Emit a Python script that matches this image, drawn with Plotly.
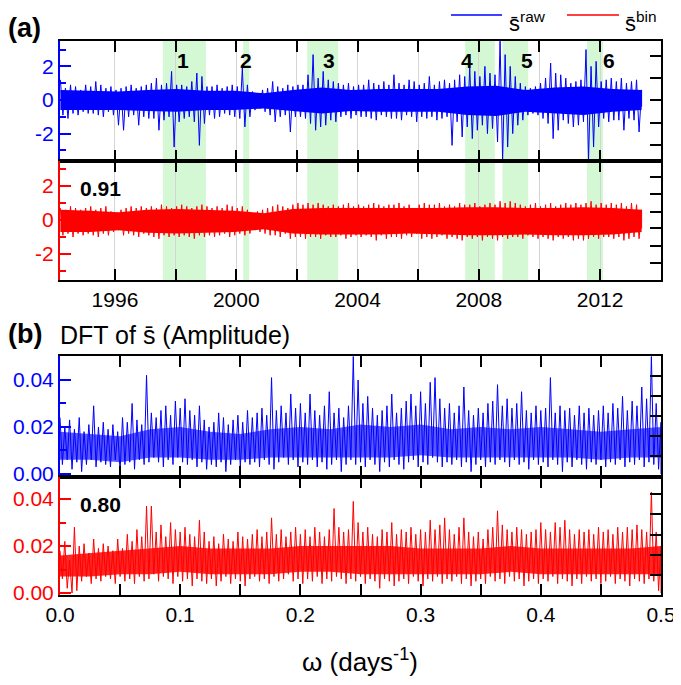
import numpy as np
import plotly.graph_objects as go

# ---------------- data ----------------
# panel (a): envelope of the daily series, one hi/lo pair every 2 months
year_start, year_end = 1994.2, 2013.37
raw_hi = [1.2, 0.7, 0.9, 0.8, 0.6, 0.9,
          0.8, 1.1, 0.9, 0.7, 0.8, 0.6,
          0.7, 0.8, 0.9, 0.7, 0.8, 0.9,
          1.0, 1.3, 0.9, 1.0, 1.7, 0.9,
          0.9, 0.8, 1.1, 1.6, 1.4, 0.8,
          0.8, 0.9, 0.7, 0.8, 0.9, 0.8,
          1.9, 0.9, 0.5, 0.4, 0.6, 0.7,
          1.1, 0.8, 0.7, 0.9, 0.8, 0.9,
          0.9, 1.5, 2.7, 1.3, 1.7, 1.2,
          1.1, 1.0, 0.9, 1.0, 0.8, 0.9,
          0.9, 1.2, 1.0, 0.9, 1.1, 0.9,
          1.5, 1.0, 0.9, 1.2, 1.1, 0.9,
          1.0, 1.4, 0.9, 1.1, 1.2, 1.0,
          1.2, 1.5, 1.4, 1.9, 1.7, 1.4,
          2.0, 1.6, 1.5, 3.5, 2.7, 2.0,
          1.4, 1.0, 0.8, 0.7, 0.8, 1.0,
          1.3, 2.2, 1.6, 1.5, 1.3, 1.0,
          1.1, 1.2, 3.0, 2.0, 2.3, 1.1,
          1.2, 1.3, 1.1, 1.3, 1.0, 1.1,
          1.2, 0.6]
raw_lo = [-0.9, -1.1, -0.8, -0.9, -0.7, -0.8,
          -0.8, -0.9, -1.0, -0.7, -0.9, -1.5,
          -1.8, -1.0, -0.9, -1.5, -1.0, -1.1,
          -1.1, -1.8, -1.2, -1.0, -2.8, -1.3,
          -1.1, -1.0, -1.3, -2.7, -1.4, -0.9,
          -1.1, -1.0, -0.8, -0.9, -1.0, -1.1,
          -1.6, -1.0, -0.6, -0.5, -0.7, -0.9,
          -1.3, -1.0, -0.9, -1.9, -1.0, -1.0,
          -1.1, -1.4, -1.8, -1.6, -1.5, -1.2,
          -1.3, -1.0, -0.9, -1.1, -0.9, -1.0,
          -1.0, -1.1, -1.2, -0.9, -1.0, -1.1,
          -1.1, -1.2, -0.9, -1.0, -1.3, -1.0,
          -1.1, -1.0, -1.2, -1.1, -1.0, -2.7,
          -1.3, -2.2, -1.6, -2.3, -1.8, -1.5,
          -2.0, -1.7, -2.5, -3.6, -2.8, -2.0,
          -1.5, -1.2, -0.9, -0.8, -0.9, -1.1,
          -1.4, -2.3, -1.8, -1.2, -1.4, -1.6,
          -1.5, -1.3, -3.6, -2.8, -1.6, -1.1,
          -1.3, -1.2, -1.2, -1.8, -1.1, -1.2,
          -1.9, -0.4]
bin_hi = [0.7, 0.6, 0.8, 0.7, 0.6, 0.7,
          0.8, 0.6, 0.7, 0.8, 0.5, 0.4,
          0.6, 0.7, 0.8, 0.7, 0.8, 0.7,
          0.8, 0.7, 0.9, 0.8, 0.7, 0.8,
          0.9, 0.8, 0.7, 0.8, 0.9, 0.8,
          0.7, 0.8, 0.7, 0.9, 0.8, 0.7,
          0.8, 0.6, 0.4, 0.5, 0.6, 0.7,
          0.8, 0.9, 0.8, 0.7, 0.9, 1.0,
          0.9, 1.0, 0.9, 1.0, 0.9, 0.8,
          0.9, 0.8, 0.9, 1.0, 0.8, 0.9,
          0.8, 0.9, 1.0, 0.9, 0.8, 0.9,
          0.9, 1.0, 0.8, 0.9, 0.7, 0.9,
          1.0, 0.9, 0.9, 1.0, 0.8, 0.9,
          0.8, 1.0, 0.9, 0.9, 1.0, 0.8,
          0.9, 1.0, 0.9, 1.1, 1.0, 1.1,
          1.0, 0.9, 0.8, 0.9, 1.0, 0.8,
          0.9, 1.0, 0.8, 0.9, 1.0, 0.9,
          1.0, 0.9, 1.0, 1.1, 0.9, 1.0,
          0.9, 1.0, 0.9, 1.0, 0.8, 1.0,
          0.9, 0.6]
bin_lo = [-0.9, -0.8, -1.0, -0.8, -0.9, -0.8,
          -0.9, -1.0, -0.8, -0.9, -0.7, -0.6,
          -0.9, -0.8, -0.9, -1.0, -0.8, -0.9,
          -1.0, -1.1, -0.9, -1.0, -0.9, -1.0,
          -0.9, -1.0, -1.1, -0.9, -1.0, -0.9,
          -1.0, -0.9, -0.8, -1.0, -0.9, -0.8,
          -0.9, -0.8, -0.6, -0.7, -0.8, -0.9,
          -0.9, -1.0, -0.8, -1.1, -1.0, -1.0,
          -1.1, -1.0, -1.0, -1.1, -0.9, -1.0,
          -1.0, -0.9, -1.1, -1.0, -0.9, -1.0,
          -0.9, -1.0, -1.2, -0.9, -1.1, -1.0,
          -1.0, -1.1, -0.9, -1.0, -0.8, -1.1,
          -1.0, -1.1, -1.0, -0.9, -1.1, -1.0,
          -1.1, -1.2, -1.0, -1.1, -1.0, -1.2,
          -1.0, -1.1, -1.2, -1.0, -1.1, -1.0,
          -1.0, -1.1, -0.9, -1.0, -1.1, -1.0,
          -1.1, -1.2, -1.0, -1.1, -1.0, -1.2,
          -1.1, -1.2, -1.1, -1.0, -1.1, -1.0,
          -1.0, -1.1, -1.0, -1.2, -1.1, -1.0,
          -1.1, -0.5]
# solid (dense) core of each band, one value per ~year
raw_core_hi = [0.6, 0.55, 0.5, 0.6, 0.65, 0.55, 0.55, 0.4, 0.6, 0.75, 0.6,
               0.65, 0.65, 0.65, 0.8, 0.85, 0.6, 0.75, 0.8, 0.65, 0.6]
raw_core_lo = [-0.6, -0.6, -0.6, -0.65, -0.7, -0.6, -0.6, -0.5, -0.65, -0.8, -0.65,
               -0.7, -0.7, -0.7, -0.9, -0.95, -0.7, -0.8, -0.9, -0.7, -0.6]
bin_core_hi = [0.6, 0.55, 0.45, 0.6, 0.65, 0.6, 0.55, 0.4, 0.65, 0.7, 0.7,
               0.7, 0.7, 0.7, 0.75, 0.75, 0.7, 0.7, 0.75, 0.7, 0.6]
bin_core_lo = [-0.7, -0.7, -0.6, -0.75, -0.8, -0.75, -0.7, -0.55, -0.8, -0.85, -0.85,
               -0.85, -0.8, -0.85, -0.9, -0.9, -0.85, -0.9, -0.9, -0.85, -0.7]

# panel (b): DFT amplitude envelope, one hi/lo pair every 0.004 days^-1
omega_start, omega_end = 0.0, 0.5
dft_raw_hi = [0.024, 0.020, 0.023, 0.019, 0.024, 0.018, 0.021, 0.029, 0.020, 0.022,
              0.019, 0.021, 0.018, 0.024, 0.022, 0.030, 0.023, 0.021, 0.042, 0.026,
              0.024, 0.027, 0.029, 0.025, 0.031, 0.028, 0.032, 0.027, 0.025, 0.029,
              0.023, 0.020, 0.022, 0.026, 0.024, 0.021, 0.023, 0.025, 0.022, 0.027,
              0.024, 0.026, 0.028, 0.025, 0.041, 0.027, 0.029, 0.026, 0.034, 0.028,
              0.030, 0.026, 0.034, 0.027, 0.025, 0.029, 0.035, 0.026, 0.028, 0.024,
              0.029, 0.050, 0.040, 0.030, 0.033, 0.028, 0.025, 0.027, 0.029, 0.034,
              0.026, 0.028, 0.031, 0.034, 0.029, 0.035, 0.030, 0.039, 0.041, 0.032,
              0.028, 0.030, 0.026, 0.029, 0.037, 0.027, 0.025, 0.028, 0.026, 0.030,
              0.031, 0.038, 0.029, 0.032, 0.028, 0.030, 0.035, 0.027, 0.026, 0.029,
              0.027, 0.028, 0.041, 0.026, 0.029, 0.027, 0.028, 0.025, 0.029, 0.026,
              0.028, 0.025, 0.027, 0.029, 0.026, 0.030, 0.028, 0.033, 0.027, 0.031,
              0.029, 0.037, 0.032, 0.050, 0.030, 0.022]
dft_raw_lo = [0.004, 0.006, 0.002, 0.005, 0.001, 0.004, 0.006, 0.003, 0.005, 0.004,
              0.003, 0.006, 0.001, 0.004, 0.005, 0.002, 0.006, 0.004, 0.005, 0.007,
              0.005, 0.003, 0.006, 0.004, 0.007, 0.005, 0.004, 0.006, 0.003, 0.005,
              0.002, 0.004, 0.003, 0.005, 0.001, 0.004, 0.006, 0.003, 0.005, 0.004,
              0.005, 0.003, 0.006, 0.004, 0.002, 0.005, 0.007, 0.004, 0.006, 0.003,
              0.005, 0.004, 0.006, 0.003, 0.005, 0.002, 0.004, 0.006, 0.001, 0.004,
              0.006, 0.004, 0.005, 0.003, 0.006, 0.004, 0.001, 0.005, 0.003, 0.006,
              0.004, 0.002, 0.005, 0.006, 0.003, 0.005, 0.004, 0.007, 0.005, 0.003,
              0.005, 0.004, 0.006, 0.003, 0.005, 0.001, 0.004, 0.006, 0.003, 0.005,
              0.004, 0.006, 0.005, 0.003, 0.006, 0.004, 0.005, 0.002, 0.006, 0.004,
              0.005, 0.003, 0.006, 0.004, 0.001, 0.005, 0.003, 0.006, 0.004, 0.002,
              0.005, 0.004, 0.006, 0.003, 0.005, 0.004, 0.006, 0.003, 0.005, 0.004,
              0.006, 0.003, 0.005, 0.004, 0.002, 0.000]
dft_bin_hi = [0.018, 0.022, 0.014, 0.028, 0.020, 0.021, 0.017, 0.023, 0.019, 0.021,
              0.020, 0.018, 0.023, 0.019, 0.025, 0.022, 0.027, 0.024, 0.037, 0.037,
              0.026, 0.029, 0.024, 0.030, 0.027, 0.026, 0.028, 0.025, 0.024, 0.031,
              0.026, 0.022, 0.024, 0.021, 0.025, 0.023, 0.022, 0.026, 0.024, 0.023,
              0.025, 0.027, 0.024, 0.026, 0.032, 0.025, 0.027, 0.024, 0.026, 0.028,
              0.025, 0.027, 0.024, 0.028, 0.026, 0.024, 0.027, 0.036, 0.028, 0.026,
              0.027, 0.039, 0.030, 0.026, 0.028, 0.025, 0.024, 0.027, 0.026, 0.030,
              0.025, 0.027, 0.026, 0.028, 0.025, 0.027, 0.026, 0.031, 0.027, 0.029,
              0.032, 0.027, 0.025, 0.028, 0.032, 0.026, 0.024, 0.026, 0.023, 0.027,
              0.028, 0.035, 0.029, 0.027, 0.026, 0.028, 0.027, 0.025, 0.026, 0.027,
              0.030, 0.027, 0.026, 0.030, 0.028, 0.031, 0.027, 0.025, 0.027, 0.026,
              0.027, 0.025, 0.028, 0.026, 0.027, 0.025, 0.028, 0.026, 0.028, 0.027,
              0.029, 0.027, 0.026, 0.043, 0.026, 0.020]
dft_bin_lo = [0.006, 0.002, 0.000, 0.001, 0.005, 0.007, 0.004, 0.006, 0.005, 0.007,
              0.006, 0.004, 0.007, 0.005, 0.006, 0.004, 0.007, 0.005, 0.006, 0.008,
              0.005, 0.007, 0.006, 0.004, 0.007, 0.005, 0.006, 0.003, 0.006, 0.005,
              0.004, 0.006, 0.003, 0.005, 0.007, 0.004, 0.006, 0.005, 0.003, 0.006,
              0.007, 0.005, 0.006, 0.004, 0.007, 0.005, 0.006, 0.008, 0.005, 0.006,
              0.004, 0.006, 0.005, 0.007, 0.004, 0.006, 0.005, 0.007, 0.006, 0.004,
              0.006, 0.005, 0.007, 0.004, 0.006, 0.005, 0.002, 0.006, 0.005, 0.003,
              0.005, 0.006, 0.004, 0.007, 0.005, 0.003, 0.006, 0.005, 0.007, 0.004,
              0.006, 0.005, 0.007, 0.004, 0.006, 0.003, 0.005, 0.006, 0.004, 0.007,
              0.005, 0.006, 0.004, 0.007, 0.005, 0.006, 0.003, 0.005, 0.006, 0.004,
              0.006, 0.005, 0.007, 0.004, 0.006, 0.005, 0.003, 0.006, 0.004, 0.007,
              0.005, 0.006, 0.004, 0.005, 0.007, 0.004, 0.006, 0.005, 0.003, 0.006,
              0.005, 0.004, 0.006, 0.005, 0.001, 0.000]
dft_raw_core_hi = [0.018, 0.017, 0.016, 0.019, 0.020, 0.018, 0.017, 0.019, 0.020, 0.019, 0.021,
                   0.020, 0.021, 0.019, 0.020, 0.019, 0.020, 0.019, 0.018, 0.019, 0.020]
dft_raw_core_lo = [0.006, 0.006, 0.005, 0.007, 0.007, 0.006, 0.006, 0.007, 0.007, 0.007, 0.007,
                   0.007, 0.008, 0.007, 0.007, 0.007, 0.007, 0.007, 0.006, 0.007, 0.007]
dft_bin_core_hi = [0.016, 0.017, 0.018, 0.019, 0.020, 0.019, 0.019, 0.019, 0.020, 0.020, 0.020,
                   0.020, 0.019, 0.019, 0.019, 0.020, 0.019, 0.019, 0.019, 0.019, 0.020]
dft_bin_core_lo = [0.007, 0.007, 0.008, 0.008, 0.009, 0.008, 0.008, 0.008, 0.009, 0.009, 0.008,
                   0.008, 0.008, 0.008, 0.008, 0.009, 0.008, 0.008, 0.008, 0.008, 0.008]

# shaded event periods (years) and their labels
event_start = [1997.58, 2000.23, 2002.34, 2007.55, 2008.78, 2011.57]
event_end = [1999.0, 2000.43, 2003.36, 2008.53, 2009.63, 2012.1]
event_label = ["1", "2", "3", "4", "5", "6"]
event_label_x = [1998.23, 2000.32, 2003.06, 2007.6, 2009.6, 2012.3]
corr_time = "0.91"
corr_dft = "0.80"

year_ticks = [1996, 1998, 2000, 2002, 2004, 2006, 2008, 2010, 2012]
year_text = ["1996", "", "2000", "", "2004", "", "2008", "", "2012"]
omega_ticks = [0.0, 0.05, 0.1, 0.15, 0.2, 0.25, 0.3, 0.35, 0.4, 0.45, 0.5]
omega_text = ["0.0", "", "0.1", "", "0.2", "", "0.3", "", "0.4", "", "0.5"]

# ---------------- figure ----------------
W, H = 681, 685
OFF = 8  # page body margin the plot div sits in
FONT = "Liberation Sans, Arial, sans-serif"
BLUE, RED = "#0000ff", "#ff0000"


def px_x(p):
    return (p - OFF) / W


def px_y(p):
    return 1 - (p - OFF) / H


def zigzag(x0, x1, hi, lo):
    n = len(hi)
    t = np.linspace(x0, x1, n)
    half = (x1 - x0) / (n - 1) / 2
    x = np.empty(2 * n)
    y = np.empty(2 * n)
    x[0::2] = t
    x[1::2] = np.minimum(t + half, x1)
    y[0::2] = hi
    y[1::2] = lo
    return x, y


xd = [px_x(60), px_x(661)]
dom = {1: [px_y(161), px_y(41)], 2: [px_y(280), px_y(161)],
       3: [px_y(477), px_y(356)], 4: [px_y(595), px_y(477)]}

fig = go.Figure()
series = [(year_start, year_end, raw_hi, raw_lo, raw_core_hi, raw_core_lo, BLUE, 1, 1.0),
          (year_start, year_end, bin_hi, bin_lo, bin_core_hi, bin_core_lo, RED, 2, 1.0),
          (omega_start, omega_end, dft_raw_hi, dft_raw_lo, dft_raw_core_hi, dft_raw_core_lo,
           BLUE, 3, 0.65),
          (omega_start, omega_end, dft_bin_hi, dft_bin_lo, dft_bin_core_hi, dft_bin_core_lo,
           RED, 4, 0.85)]
for x0, x1, hi, lo, chi, clo, col, k, alpha in series:
    xa = f"x{k}" if k > 1 else "x"
    ya = f"y{k}" if k > 1 else "y"
    tc = np.linspace(x0, x1, len(chi))
    r, g, b = int(col[1:3], 16), int(col[3:5], 16), int(col[5:7], 16)
    fig.add_trace(go.Scatter(x=tc, y=clo, mode="lines", line=dict(width=0, color=col),
                             xaxis=xa, yaxis=ya, showlegend=False, hoverinfo="skip"))
    fig.add_trace(go.Scatter(x=tc, y=chi, mode="lines", line=dict(width=0, color=col),
                             fill="tonexty", fillcolor=f"rgba({r},{g},{b},{alpha})",
                             xaxis=xa, yaxis=ya, showlegend=False, hoverinfo="skip"))
    x, y = zigzag(x0, x1, hi, lo)
    fig.add_trace(go.Scatter(x=x, y=y, mode="lines", line=dict(color=col, width=1),
                             xaxis=xa, yaxis=ya, showlegend=False, hoverinfo="skip"))
# empty traces so the right-hand axes get drawn
for k in range(1, 5):
    fig.add_trace(go.Scatter(x=[None], y=[None], mode="lines",
                             xaxis=f"x{k}" if k > 1 else "x", yaxis=f"y{k + 4}",
                             showlegend=False, hoverinfo="skip"))

tick_font = dict(family=FONT, size=21, color="black")
common_x = dict(domain=xd, showline=True, linecolor="black", linewidth=2, mirror="ticks",
                ticks="inside", ticklen=11, tickwidth=2, tickcolor="black",
                zeroline=False, tickfont=tick_font, automargin=False)
lay = {}
lay["xaxis"] = dict(common_x, anchor="y", range=[1994.187, 2014.01], tickvals=year_ticks,
                    ticktext=year_text, showticklabels=False, showgrid=True,
                    gridcolor="#d4d4d4", gridwidth=1)
lay["xaxis2"] = dict(common_x, anchor="y2", range=[1994.187, 2014.01], tickvals=year_ticks,
                     ticktext=year_text, showgrid=True, gridcolor="#d4d4d4", gridwidth=1)
lay["xaxis3"] = dict(common_x, anchor="y3", range=[0, 0.5], tickvals=omega_ticks,
                     ticktext=omega_text, showticklabels=False, showgrid=False)
lay["xaxis4"] = dict(common_x, anchor="y4", range=[0, 0.5], tickvals=omega_ticks,
                     ticktext=omega_text, showgrid=False)

left_specs = {
    1: (BLUE, [-3.63, 3.51], [-2, 0, 2], ["-2", "0", "2"], [-3, -1, 1, 3]),
    2: (RED, [-3.53, 3.47], [-2, 0, 2], ["-2", "0", "2"], [-3, -1, 1, 3]),
    3: (BLUE, [-0.0013, 0.0502], [0, 0.02, 0.04], ["0.00", "0.02", "0.04"], [0.01, 0.03]),
    4: (RED, [-0.00085, 0.0494], [0, 0.02, 0.04], ["0.00", "0.02", "0.04"], [0.01, 0.03]),
}
right_ticks = {
    1: [-2.7, -1.35, 0, 1.3, 2.6],
    2: [-2.53, -1.53, -0.47, 0.47, 1.53, 2.53],
    3: [0.0077, 0.0162, 0.0247, 0.0332, 0.0417],
    4: [0.0077, 0.0162, 0.0247, 0.0336, 0.0421],
}
for k, (col, rng, tv, tt, minor_tv) in left_specs.items():
    name = "yaxis" if k == 1 else f"yaxis{k}"
    lay[name] = dict(domain=dom[k], anchor="x" if k == 1 else f"x{k}", range=rng,
                     showline=True, linecolor=col, linewidth=2, mirror=False,
                     ticks="inside", ticklen=11, tickwidth=2, tickcolor=col,
                     tickvals=tv, ticktext=tt,
                     tickfont=dict(family=FONT, size=21, color=col),
                     minor=dict(tickvals=minor_tv, ticks="inside", ticklen=6,
                                tickwidth=2, tickcolor=col, showgrid=False),
                     showgrid=False, zeroline=False, automargin=False)
    lay[f"yaxis{k + 4}"] = dict(overlaying="y" if k == 1 else f"y{k}",
                                anchor="x" if k == 1 else f"x{k}", side="right",
                                range=rng, showline=True, linecolor="black", linewidth=2,
                                ticks="inside", ticklen=11, tickwidth=2, tickcolor="black",
                                tickvals=right_ticks[k], showticklabels=False,
                                showgrid=False, zeroline=False, automargin=False)

shapes = []
for s, e in zip(event_start, event_end):
    shapes.append(dict(type="rect", xref="x", yref="paper", x0=s, x1=e,
                       y0=px_y(280), y1=px_y(41), fillcolor="#d4f8d4",
                       line=dict(width=0), layer="below"))
# manual legend swatches
shapes.append(dict(type="line", xref="paper", yref="paper", x0=px_x(451), x1=px_x(502),
                   y0=px_y(15), y1=px_y(15), line=dict(color=BLUE, width=1.5)))
shapes.append(dict(type="line", xref="paper", yref="paper", x0=px_x(567), x1=px_x(619),
                   y0=px_y(15), y1=px_y(15), line=dict(color=RED, width=1.5)))

ann = []
for lab, lx in zip(event_label, event_label_x):
    ann.append(dict(x=lx, y=2.35, xref="x", yref="y", text=f"<b>{lab}</b>",
                    showarrow=False, font=dict(family=FONT, size=21, color="black")))


def paper_text(text, x, y, size, xanchor="left", bold=False):
    ann.append(dict(x=px_x(x), y=px_y(y), xref="paper", yref="paper",
                    text=f"<b>{text}</b>" if bold else text, showarrow=False,
                    xanchor=xanchor, yanchor="middle",
                    font=dict(family=FONT, size=size, color="black")))


paper_text("(a)", 6, 28, 27, bold=True)
paper_text("(b)", 6, 334, 27, bold=True)
paper_text("DFT of s\u0304 (Amplitude)", 58, 335, 25)
paper_text(corr_time, 78, 188, 21, bold=True)
paper_text(corr_dft, 78, 504, 21, bold=True)
paper_text("\u03c9 (days<sup>-1</sup>)", 360, 660, 26, xanchor="center")
paper_text("s\u0304<sup>raw</sup>", 507, 22, 22)
paper_text("s\u0304<sup>bin</sup>", 623, 22, 22)

fig.update_layout(width=W, height=H, autosize=False,
                  margin=dict(l=0, r=0, t=0, b=0, pad=0, autoexpand=False),
                  plot_bgcolor="white", paper_bgcolor="white", showlegend=False,
                  shapes=shapes, annotations=ann, font=dict(family=FONT), **lay)
fig.write_html("out.html")
